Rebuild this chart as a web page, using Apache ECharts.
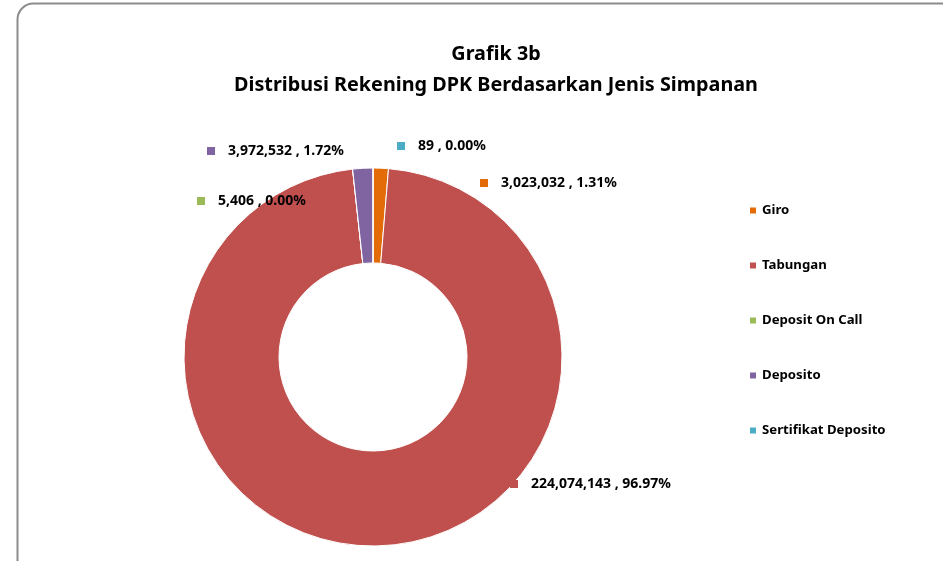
<!DOCTYPE html>
<html>
<head>
<meta charset="utf-8">
<script src="https://cdn.jsdelivr.net/npm/echarts@6/dist/echarts.min.js"></script>
<style>
  html, body { margin: 0; padding: 0; background: #ffffff; }
  #chart { width: 943px; height: 561px; }
</style>
</head>
<body>
<div id="chart"></div>
<script>
// data
const categories = ['Giro', 'Tabungan', 'Deposit On Call', 'Deposito', 'Sertifikat Deposito']
const values = [3023032, 224074143, 5406, 3972532, 89]
const colors = ['#E36C09', '#C0504D', '#9BBB59', '#8064A2', '#4BACC6']

// label spots (left edge of the coloured square, vertical middle)
const labelSpots = [[480, 183], [510, 484], [197, 201], [207, 151], [397, 146]]

const total = values.reduce((a, b) => a + b, 0)
const font = '"Noto Sans", sans-serif'

const myChart = echarts.init(document.getElementById('chart'))

const option = {
  backgroundColor: '#ffffff',
  animation: false,
  title: {
    text: 'Grafik 3b\nDistribusi Rekening DPK Berdasarkan Jenis Simpanan',
    left: 491,
    top: 34,
    textAlign: 'center',
    textStyle: {
      fontFamily: font,
      fontSize: 19.8,
      fontWeight: 'bold',
      color: '#000',
      lineHeight: 31
    }
  },
  graphic: [{
    type: 'rect',
    shape: { x: 17.5, y: 3.5, width: 940, height: 575, r: 16 },
    style: { fill: 'none', stroke: '#8c8c8c', lineWidth: 2 },
    silent: true,
    z: -1
  }],
  legend: {
    orient: 'vertical',
    left: 743,
    top: 199,
    itemWidth: 8,
    itemHeight: 8,
    itemGap: 42,
    icon: 'rect',
    data: categories,
    textStyle: {
      fontFamily: font,
      fontSize: 13.2,
      fontWeight: 'bold',
      color: '#000',
      padding: [0, 0, 0, 0]
    }
  },
  series: [{
    type: 'pie',
    center: [373, 357],
    radius: [94, 189],
    startAngle: 90,
    clockwise: true,
    avoidLabelOverlap: false,
    itemStyle: { borderColor: '#ffffff', borderWidth: 1 },
    labelLine: { show: false },
    label: {
      show: true,
      position: 'outside',
      formatter: (p) => {
        const pct = (p.value / total * 100).toFixed(2)
        return '{sq| }{v|' + p.value.toLocaleString('en-US') + ' , ' + pct + '%}'
      },
      rich: {
        sq: { width: 8, height: 8, backgroundColor: 'inherit' },
        v: { fontFamily: font, fontSize: 14, fontWeight: 'bold', color: '#000', padding: [0, 0, 0, 13] }
      }
    },
    labelLayout: (params) => {
      const s = labelSpots[params.dataIndex]
      return { x: s[0], y: s[1], align: 'left', verticalAlign: 'middle' }
    },
    data: categories.map((c, i) => ({
      name: c,
      value: values[i],
      itemStyle: { color: colors[i] },
      label: { rich: { sq: { width: 8, height: 8, backgroundColor: colors[i] } } }
    }))
  }]
}

myChart.setOption(option)
window.addEventListener('resize', () => myChart.resize())
</script>
</body>
</html>
